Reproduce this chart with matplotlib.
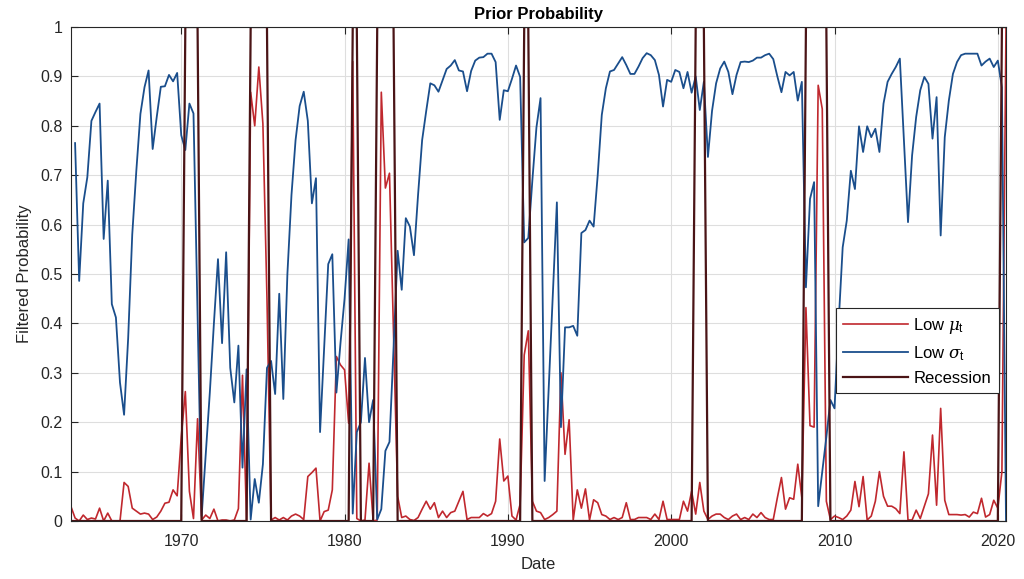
import numpy as np
import pandas as pd
import matplotlib
matplotlib.use('Agg')
import matplotlib.pyplot as plt

# quarterly sample, dated at quarter end
quarters = pd.period_range('1963Q1', '2020Q2', freq='Q')

# filtered probability of the low-mean state
low_mu = [
    0.029, 0.006, 0.000, 0.012, 0.003, 0.006, 0.004, 0.026, 0.000, 0.016,
    0.000, 0.000, 0.000, 0.078, 0.070, 0.026, 0.020, 0.014, 0.016, 0.014,
    0.003, 0.008, 0.020, 0.036, 0.038, 0.063, 0.051, 0.170, 0.262, 0.060,
    0.005, 0.207, 0.002, 0.012, 0.005, 0.024, 0.000, 0.002, 0.002, 0.000,
    0.002, 0.025, 0.295, 0.000, 0.868, 0.800, 0.919, 0.804, 0.450, 0.002,
    0.007, 0.002, 0.007, 0.002, 0.010, 0.014, 0.010, 0.003, 0.090, 0.098,
    0.107, 0.000, 0.019, 0.022, 0.063, 0.333, 0.316, 0.306, 0.198, 0.930,
    0.005, 0.000, 0.002, 0.117, 0.000, 0.002, 0.868, 0.674, 0.704, 0.380,
    0.050, 0.007, 0.010, 0.003, 0.001, 0.007, 0.024, 0.040, 0.024, 0.037,
    0.007, 0.020, 0.007, 0.017, 0.020, 0.040, 0.060, 0.003, 0.007, 0.007,
    0.007, 0.015, 0.010, 0.015, 0.040, 0.166, 0.081, 0.091, 0.010, 0.002,
    0.034, 0.336, 0.385, 0.040, 0.020, 0.017, 0.003, 0.007, 0.013, 0.020,
    0.300, 0.135, 0.205, 0.002, 0.063, 0.026, 0.065, 0.002, 0.043, 0.037,
    0.013, 0.010, 0.003, 0.007, 0.003, 0.007, 0.037, 0.003, 0.003, 0.007,
    0.007, 0.007, 0.003, 0.014, 0.003, 0.040, 0.003, 0.003, 0.003, 0.003,
    0.040, 0.020, 0.060, 0.014, 0.078, 0.020, 0.003, 0.010, 0.014, 0.014,
    0.007, 0.003, 0.010, 0.014, 0.003, 0.007, 0.003, 0.014, 0.007, 0.017,
    0.007, 0.003, 0.003, 0.047, 0.088, 0.024, 0.047, 0.044, 0.115, 0.047,
    0.432, 0.193, 0.190, 0.882, 0.834, 0.040, 0.003, 0.010, 0.007, 0.003,
    0.010, 0.022, 0.080, 0.029, 0.090, 0.002, 0.010, 0.040, 0.100, 0.050,
    0.030, 0.030, 0.025, 0.015, 0.140, 0.002, 0.002, 0.022, 0.005, 0.030,
    0.055, 0.174, 0.032, 0.228, 0.042, 0.013, 0.013, 0.013, 0.012, 0.013,
    0.008, 0.018, 0.015, 0.046, 0.008, 0.013, 0.042, 0.026, 0.100, 1.000,
]

# filtered probability of the low-volatility state (first quarter missing)
low_sigma = [
    np.nan, 0.765, 0.486, 0.643, 0.696, 0.810, 0.828, 0.845, 0.571, 0.689,
    0.439, 0.412, 0.280, 0.215, 0.370, 0.580, 0.709, 0.824, 0.878, 0.912,
    0.753, 0.818, 0.879, 0.880, 0.903, 0.890, 0.907, 0.781, 0.751, 0.845,
    0.825, 0.420, 0.010, 0.135, 0.260, 0.400, 0.530, 0.360, 0.544, 0.310,
    0.240, 0.355, 0.108, 0.307, 0.003, 0.085, 0.037, 0.115, 0.310, 0.324,
    0.257, 0.460, 0.247, 0.500, 0.660, 0.771, 0.840, 0.869, 0.810, 0.643,
    0.694, 0.180, 0.350, 0.520, 0.540, 0.260, 0.360, 0.450, 0.570, 0.015,
    0.180, 0.200, 0.330, 0.200, 0.245, 0.003, 0.024, 0.142, 0.160, 0.350,
    0.547, 0.468, 0.613, 0.596, 0.538, 0.660, 0.771, 0.830, 0.886, 0.882,
    0.869, 0.892, 0.915, 0.922, 0.933, 0.912, 0.910, 0.870, 0.911, 0.932,
    0.938, 0.939, 0.946, 0.946, 0.929, 0.812, 0.872, 0.870, 0.895, 0.922,
    0.899, 0.564, 0.573, 0.690, 0.797, 0.856, 0.081, 0.270, 0.460, 0.645,
    0.190, 0.392, 0.392, 0.395, 0.375, 0.583, 0.589, 0.608, 0.596, 0.700,
    0.822, 0.876, 0.910, 0.913, 0.926, 0.939, 0.923, 0.905, 0.905, 0.920,
    0.937, 0.947, 0.943, 0.933, 0.903, 0.839, 0.893, 0.889, 0.913, 0.909,
    0.876, 0.909, 0.867, 0.900, 0.832, 0.889, 0.737, 0.830, 0.886, 0.916,
    0.930, 0.909, 0.864, 0.903, 0.929, 0.930, 0.929, 0.932, 0.938, 0.938,
    0.943, 0.946, 0.935, 0.900, 0.868, 0.909, 0.902, 0.909, 0.851, 0.889,
    0.473, 0.652, 0.686, 0.030, 0.100, 0.170, 0.245, 0.228, 0.400, 0.554,
    0.608, 0.709, 0.672, 0.799, 0.747, 0.799, 0.777, 0.794, 0.747, 0.845,
    0.889, 0.905, 0.919, 0.936, 0.770, 0.605, 0.740, 0.818, 0.872, 0.899,
    0.885, 0.774, 0.858, 0.578, 0.777, 0.851, 0.905, 0.929, 0.943, 0.946,
    0.946, 0.946, 0.946, 0.922, 0.930, 0.936, 0.919, 0.932, 0.878, 0.000,
]

# NBER recession quarters
rec_start = ['1970Q1', '1974Q1', '1980Q2', '1981Q4', '1990Q4', '2001Q2', '2008Q1', '2020Q1']
rec_end = ['1970Q4', '1975Q1', '1980Q3', '1982Q4', '1991Q1', '2001Q4', '2009Q2', '2020Q2']

year_ticks = [1970, 1980, 1990, 2000, 2010, 2020]
prob_ticks = [0, 0.1, 0.2, 0.3, 0.4, 0.5, 0.6, 0.7, 0.8, 0.9, 1]

# build the dataframe
df = pd.DataFrame({'LowMu': low_mu, 'LowSigma': low_sigma}, index=quarters)
df['Recession'] = 0.0
for s, e in zip(rec_start, rec_end):
    df.loc[pd.Period(s, 'Q'):pd.Period(e, 'Q'), 'Recession'] = 1.0
x = df.index.year + df.index.quarter / 4.0

plt.rcParams['font.family'] = ['Liberation Sans', 'DejaVu Sans']
plt.rcParams['mathtext.fontset'] = 'custom'
plt.rcParams['mathtext.it'] = 'DejaVu Serif:italic'
plt.rcParams['mathtext.rm'] = 'Liberation Sans'

fig = plt.figure(figsize=(10.24, 5.79), dpi=100)
ax = fig.add_axes([71 / 1024, 1 - 521 / 579, 935 / 1024, 494 / 579])

ax.plot(x, df['LowMu'], color='#C0282E', lw=1.2, label=r'Low $\mu_{\rm t}$')
ax.plot(x, df['LowSigma'], color='#1A4E8C', lw=1.3, label=r'Low $\sigma_{\rm t}$')
ax.plot(x, df['Recession'], color='#4A1416', lw=1.6, label='Recession')

ax.set_xlim(x[0], x[-1])
ax.set_ylim(0, 1)
ax.set_xticks(year_ticks)
ax.set_xticklabels([str(y) for y in year_ticks])
ax.set_yticks(prob_ticks)
ax.set_yticklabels(['0' if t == 0 else ('1' if t == 1 else f'{t:.1f}') for t in prob_ticks])

ax.grid(True, color='#dedede', lw=0.8)
ax.set_axisbelow(True)
ax.tick_params(direction='in', length=5, width=0.8, colors='#262626',
               labelsize=11.5, top=True, right=True)
ax.tick_params(axis='x', pad=9)
ax.tick_params(axis='y', pad=6)
for sp in ax.spines.values():
    sp.set_color('#262626')
    sp.set_linewidth(0.8)

ax.set_title('Prior Probability', fontsize=12, fontweight='bold', pad=6)
ax.set_xlabel('Date', fontsize=12, color='#262626', labelpad=6)
ax.set_ylabel('Filtered Probability', fontsize=12, color='#262626', labelpad=6)

leg = ax.legend(loc='upper right', bbox_to_anchor=(0.992, 0.431), borderaxespad=0,
                fontsize=12, handlelength=3.9, fancybox=False, framealpha=1,
                edgecolor='#262626', borderpad=0.45, labelspacing=0.5,
                handletextpad=0.3)
leg.get_frame().set_linewidth(0.8)

fig.savefig('out.png', dpi=100)
